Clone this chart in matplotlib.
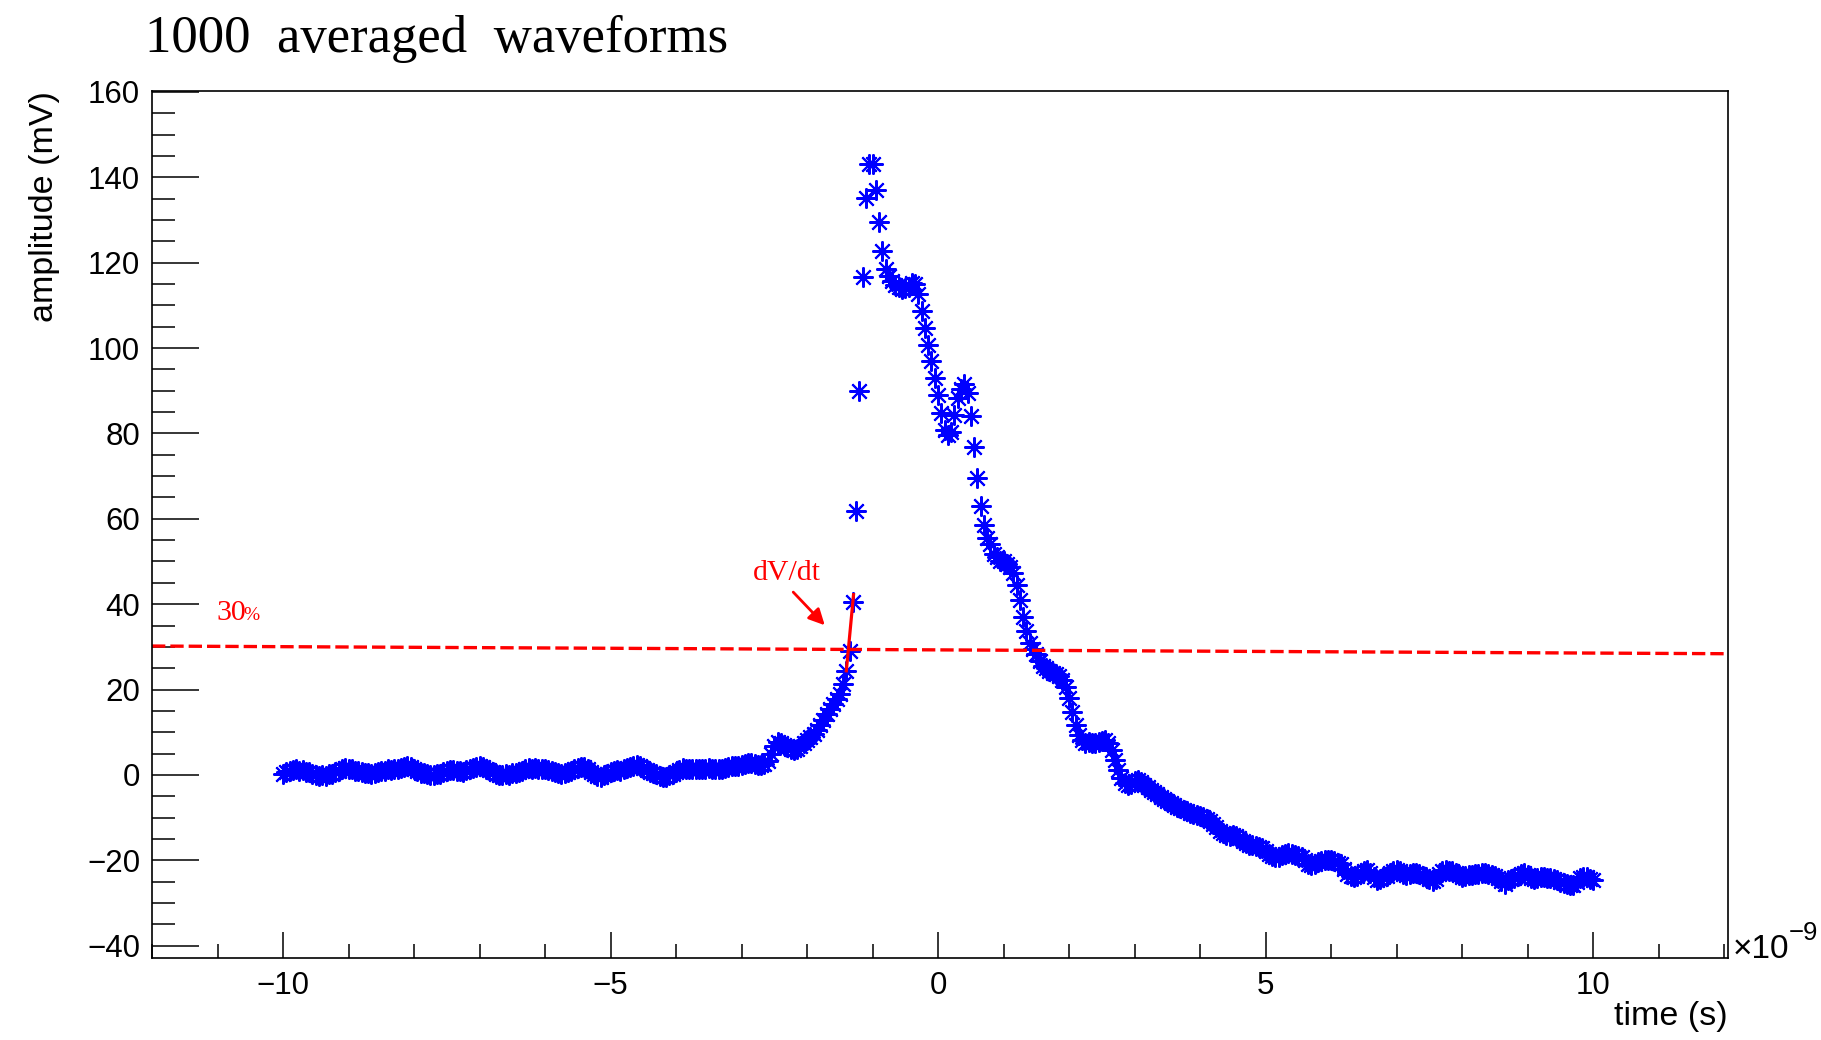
import numpy as np
import matplotlib
matplotlib.use("Agg")
import matplotlib.pyplot as plt

plt.rcParams['font.family'] = ['Liberation Sans', 'DejaVu Sans']

# sampling of the averaged waveform (ns)
t_start_ns = -10.0
dt_ns = 0.05

# amplitude (mV), in consecutive pieces
baseline_mv = [
    0.3, 0.7, 0.9, 1.2, 1.3, 1.0, 1.1, 0.7, 0.6, 0.2, 0.1, -0.2, -0.1, -0.3, 0.2, 0.3, 0.8, 1.0, 1.5, 1.6,
    1.4, 1.3, 0.9, 1.0, 0.6, 0.4, 0.5, 0.2, 0.4, 0.6, 0.9, 1.0, 1.3, 1.1, 1.3, 1.5, 1.7, 1.9, 2.0, 1.8,
    1.3, 0.9, 0.5, 0.4, 0.2, 0.1, 0.0, 0.3, 0.2, 0.6, 0.9, 1.2, 1.1, 0.9, 1.0, 0.8, 1.1, 1.3, 1.6, 1.8,
    2.0, 1.9, 1.5, 1.2, 0.7, 0.3, 0.0, -0.1, 0.2, 0.1, 0.5, 0.4, 0.8, 1.0, 1.3, 1.6, 1.5, 1.7, 1.4, 1.5,
    1.3, 1.1, 0.9, 0.6, 0.5, 0.3, 0.4, 0.6, 0.9, 1.3, 1.6, 1.9, 1.8, 1.3, 0.7, 0.2, -0.3, -0.4, -0.1, 0.2,
    0.6, 0.9, 1.1, 1.0, 1.3, 1.6, 1.9, 2.2, 2.3, 2.1, 1.7, 1.2, 0.8, 0.5, 0.2, -0.2, -0.5, -0.4, -0.1, 0.3,
    0.8, 1.2, 1.6, 1.5, 1.3, 1.4, 1.4, 1.3, 1.4, 1.5, 1.6, 1.5, 1.4, 1.3, 1.5, 1.7, 1.9, 2.0, 2.1, 2.2,
]
rise_mv = [
    2.3, 2.6, 2.9, 2.8, 2.5, 2.3, 2.4, 2.6, 3.2, 4.8, 6.8, 7.8, 7.6, 7.0, 6.6, 6.1,
    5.9, 6.2, 6.7, 7.5, 8.3, 8.9, 9.5, 10.5, 11.6, 12.9, 14.3, 15.5, 16.6, 17.7, 18.9, 21.3,
]
peak_mv = [24.4, 29.1, 40.6, 61.9, 90.0, 116.7, 135.2, 143.0, 143.2, 137.0, 129.4, 122.8, 118.4]
plateau_mv = [116.8, 115.6, 114.8, 114.2, 113.9, 114.0, 114.3, 115.2, 114.9, 112.6]
dip_mv = [
    108.7, 104.6, 100.7, 97.0, 92.9, 89.0, 84.7, 80.8, 79.6, 80.4, 84.3,
    88.2, 90.5, 91.5, 89.4, 84.1, 76.9, 69.5, 63.0, 58.5, 55.4, 54.0,
]
fall_mv = [
    51.8, 51.0, 50.2, 50.0, 49.4, 48.6, 47.2, 44.5, 41.0, 37.1, 33.8, 30.8, 29.5, 28.4, 26.6, 25.6,
    25.0, 24.4, 24.0, 23.6, 23.2, 22.3, 20.7, 18.0, 14.8, 11.7, 9.4, 8.2, 7.6, 7.8, 7.6, 7.4, 7.7,
    8.0, 8.1, 7.4, 5.8, 3.6, 1.2, -0.8, -1.8, -2.3, -2.0, -1.4, -1.1, -1.6, -2.3, -2.9, -3.4, -4.0,
    -4.5, -5.1, -5.7, -6.2, -6.6, -7.1, -7.5, -7.8, -8.2, -8.5, -8.8, -9.1, -9.4, -9.7, -9.9, -10.2,
]
step_mv = [-10.8, -11.5, -12.2, -13.0, -13.6, -14.0, -14.2, -14.1, -14.3, -14.8, -15.4, -15.9, -16.3]
tail_mv = [
    -16.5, -16.6, -16.8, -17.1, -17.8,
    -18.5, -18.9, -19.1, -19.1, -18.8, -18.5, -18.3, -18.4, -18.7, -19.0,
    -19.3, -20.0, -20.8, -21.1, -20.9, -20.4, -20.2, -19.9, -19.8, -19.9,
    -20.2, -20.5, -20.8, -22.0, -23.3, -23.6, -23.8, -23.6, -23.0, -22.4,
    -22.3, -23.0, -24.0, -24.6, -24.4, -24.0, -23.6, -23.0, -22.4, -22.2,
    -22.6, -23.1, -23.4, -23.3, -23.0, -23.0, -23.3, -23.6, -23.8, -24.4,
    -24.9, -24.3, -23.2, -22.4, -22.2, -22.5, -22.6, -23.0, -23.5, -23.8,
    -23.7, -23.5, -23.4, -23.3, -23.1, -23.0, -23.0, -23.2, -23.4, -23.6,
    -24.2, -24.9, -25.5, -24.7, -24.3, -24.1, -23.6, -23.1, -23.0, -23.5,
    -24.1, -24.3, -24.2, -24.0, -24.0, -24.1, -24.2, -24.3, -24.6, -25.0,
    -25.2, -25.5, -25.8, -25.7, -25.0, -24.2, -23.8, -24.0, -24.3, -24.6,
]

amp = np.array(baseline_mv + rise_mv + peak_mv + plateau_mv + dip_mv + fall_mv + step_mv + tail_mv)
t = t_start_ns + dt_ns * np.arange(len(amp))
assert len(amp) == 401, len(amp)

# 30% threshold line (slightly tilted in the original) and the slope points
thr_left, thr_right = 30.2, 28.4
i_lo, i_hi = len(baseline_mv + rise_mv), len(baseline_mv + rise_mv) + 2

W, H = 1821, 1040
fig = plt.figure(figsize=(W / 100, H / 100), dpi=100)
ax = fig.add_axes([152 / W, 1 - 958 / H, (1728 - 152) / W, (958 - 90.7) / H])

ax.plot(t, amp, linestyle='none', marker=(8, 2, 0), markersize=14.5,
        markeredgewidth=1.5, color='#0000ff')

xlim = (-12.0, 12.06)
ax.plot(xlim, [thr_left, thr_right], color='#ff0000', lw=2.4, dashes=(4.0, 1.5))

# dV/dt slope segment
x0, x1 = t[i_lo], t[i_hi]
y0, y1 = amp[i_lo], amp[i_hi]
k = (y1 - y0) / (x1 - x0)
ax.plot([x0, x1 + 0.01], [y0, y1 + 0.01 * k], color='#ff0000', lw=2.3)

ax.annotate('', xy=(-1.70, 34.6), xytext=(-2.24, 43.3),
            arrowprops=dict(arrowstyle='-|>', color='#ff0000', lw=2.0, mutation_scale=24))
ax.text(-2.31, 45.7, 'dV/dt', color='#ff0000', fontsize=21.5, family='Liberation Serif',
        ha='center', va='baseline')
ax.text(-11.02, 36.3, '30', color='#ff0000', fontsize=21.5, family='Liberation Serif',
        ha='left', va='baseline')
ax.text(-10.60, 36.3, '%', color='#ff0000', fontsize=14, family='Liberation Serif',
        ha='left', va='baseline')

ax.set_xlim(*xlim)
ax.set_ylim(-42.86, 160.26)
ax.set_xticks([-10, -5, 0, 5, 10])
ax.set_xticks(np.arange(-12, 13, 1), minor=True)
ax.set_yticks(np.arange(-40, 161, 20))
ax.set_yticks(np.arange(-40, 161, 5), minor=True)

ax.tick_params(axis='x', which='major', direction='in', length=18.7, width=1.1, pad=9, labelsize=22.5)
ax.tick_params(axis='x', which='minor', direction='in', length=10, width=1.1)
ax.tick_params(axis='y', which='major', direction='in', length=33.8, width=1.1, pad=8.5, labelsize=22.5)
ax.tick_params(axis='y', which='minor', direction='in', length=16.6, width=1.1)
for s in ax.spines.values():
    s.set_linewidth(1.2)

fig.text(145 / W, 1 - 51.7 / H, '1000  averaged  waveforms', fontsize=38,
         family='Liberation Serif', ha='left', va='baseline')
fig.text(45 / W, 1 - 91 / H, 'amplitude (mV)', fontsize=24.5, rotation=90,
         ha='center', va='top')
fig.text(1728 / W, 1 - 1017 / H, 'time (s)', fontsize=24.5, ha='right', va='center')
fig.text(1733 / W, 1 - 958 / H, '\u00d710', fontsize=24, ha='left', va='baseline')
fig.text(1789 / W, 1 - 940 / H, '\u22129', fontsize=18.5, ha='left', va='baseline')

fig.savefig('out.png', dpi=100, facecolor='white')
